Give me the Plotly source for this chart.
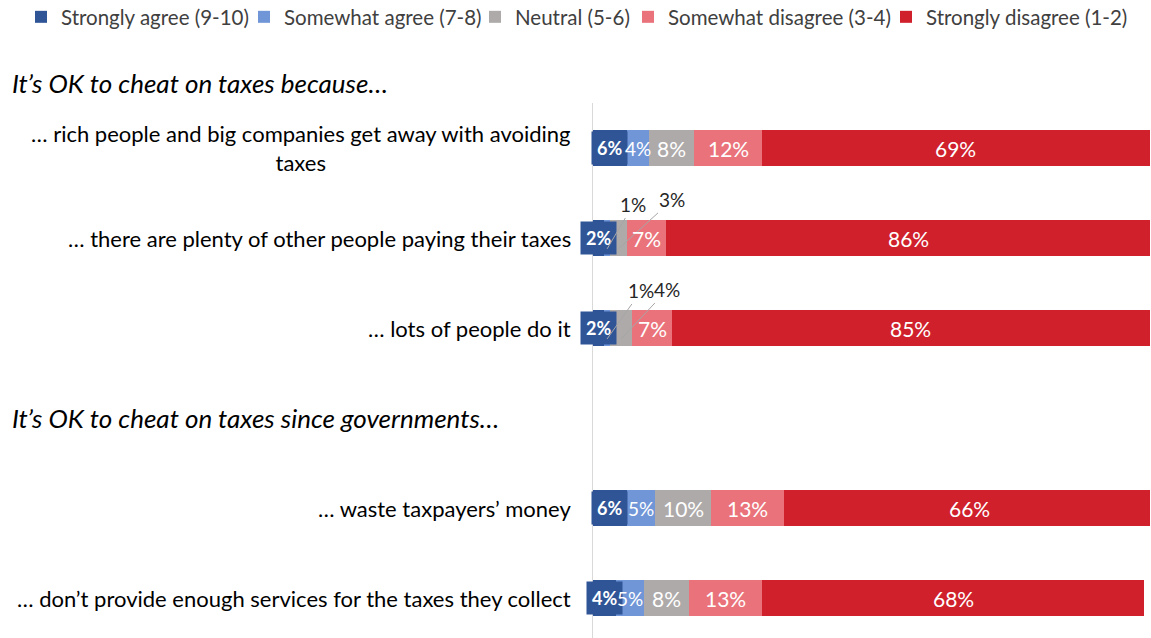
import plotly.graph_objects as go

# Survey statements (row 3 is a spacer that carries the second group heading)
statements = [
    "… rich people and big companies get away with avoiding<br>taxes",
    "… there are plenty of other people paying their taxes",
    "… lots of people do it",
    "… waste taxpayers’ money",
    "… don’t provide enough services for the taxes they collect",
]
row_pos = [0, 1, 2, 4, 5]
group_titles = ["It’s OK to cheat on taxes because…", "It’s OK to cheat on taxes since governments…"]

series_names = [
    "Strongly agree (9-10)",
    "Somewhat agree (7-8)",
    "Neutral (5-6)",
    "Somewhat disagree (3-4)",
    "Strongly disagree (1-2)",
]
strongly_agree = [6, 2, 2, 6, 4]
somewhat_agree = [4, 1, 1, 5, 5]
neutral = [8, 3, 4, 10, 8]
somewhat_disagree = [12, 7, 7, 13, 13]
strongly_disagree = [69, 86, 85, 66, 68]

series_values = [strongly_agree, somewhat_agree, neutral, somewhat_disagree, strongly_disagree]
colors = ["#2F5597", "#7096D8", "#AEAAAA", "#EA737B", "#D0202C"]

FONT = "Lato"
W, H = 1151, 638

# one single-entry legend per series, laid out in a row across the top
legend_ids = ["legend", "legend2", "legend3", "legend4", "legend5"]
legend_left_px = [21, 244, 475, 628, 886]

fig = go.Figure()
for name, vals, col, lid in zip(series_names, series_values, colors, legend_ids):
    fig.add_trace(go.Bar(
        y=row_pos, x=vals, name=name, orientation="h",
        marker=dict(color=col, line=dict(width=0)),
        width=0.4, hoverinfo="x+name", legend=lid,
    ))

annotations = []

# Segment value labels; the smallest segments get a callout with a leader line
callout_offsets = {
    (1, 1): (26, -44), (1, 2): (54, -49),
    (2, 1): (34, -48), (2, 2): (46, -49),
}
for i, y in enumerate(row_pos):
    start = 0
    for s, vals in enumerate(series_values):
        v = vals[i]
        mid = start + v / 2
        label = f"{v}%"
        if s == 0:
            annotations.append(dict(
                x=mid, y=y, xref="x", yref="y", text=f"<b>{label}</b>", showarrow=False,
                font=dict(family=FONT, size=18, color="white"),
                bgcolor=colors[0], borderpad=5,
            ))
        elif (i, s) in callout_offsets:
            ax, ay = callout_offsets[(i, s)]
            annotations.append(dict(
                x=mid, y=y + 0.12, xref="x", yref="y", text=label, showarrow=True,
                arrowhead=0, arrowwidth=1, arrowcolor="#A6A6A6", ax=ax, ay=ay,
                font=dict(family=FONT, size=19, color="#262626"),
            ))
        else:
            annotations.append(dict(
                x=mid, y=y, xref="x", yref="y", text=label, showarrow=False,
                font=dict(family=FONT, size=21 if s > 1 else 19, color="white"),
            ))
        start += v

# Statement labels to the left of the bars
for txt, y in zip(statements, row_pos):
    annotations.append(dict(
        x=0, y=y, xref="paper", yref="y", text=txt, showarrow=False,
        xanchor="right", yanchor="middle", align="center", xshift=-20,
        font=dict(family=FONT, size=22, color="#000000"),
    ))

# Group headings, anchored to the page's left edge
annotations.append(dict(
    x=-583 / 557, y=1 + 20 / 535, xref="paper", yref="paper",
    text=f"<i>{group_titles[0]}</i>", showarrow=False,
    xanchor="left", yanchor="middle",
    font=dict(family=FONT, size=26, color="#000000"),
))
annotations.append(dict(
    x=-583 / 557, y=3, xref="paper", yref="y",
    text=f"<i>{group_titles[1]}</i>", showarrow=False,
    xanchor="left", yanchor="middle",
    font=dict(family=FONT, size=26, color="#000000"),
))

legend_layouts = {}
for lid, px in zip(legend_ids, legend_left_px):
    legend_layouts[lid] = dict(
        orientation="h", xref="container", yref="container",
        x=px / W, y=1 - 17 / H, xanchor="left", yanchor="middle",
        font=dict(family=FONT, size=20.5, color="#404040"),
        itemwidth=30, bgcolor="rgba(0,0,0,0)",
    )

fig.update_layout(
    width=W, height=H,
    margin=dict(l=593, r=1, t=103, b=0),
    barmode="stack",
    plot_bgcolor="white", paper_bgcolor="white",
    font=dict(family=FONT, size=17, color="#404040"),
    xaxis=dict(range=[0, 99], visible=False, fixedrange=True),
    yaxis=dict(range=[5.44, -0.5], showticklabels=False, showgrid=False, zeroline=False,
               showline=True, linecolor="#D9D9D9", linewidth=1, fixedrange=True),
    annotations=annotations,
    showlegend=True,
    **legend_layouts,
)

fig.write_html("out.html")
